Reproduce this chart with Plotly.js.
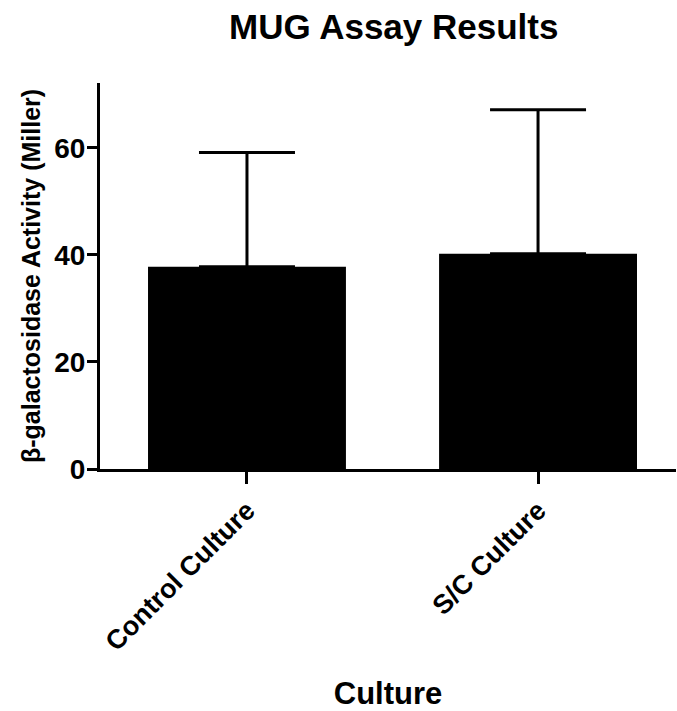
<!DOCTYPE html>
<html>
<head>
<meta charset="utf-8">
<script src="https://cdn.plot.ly/plotly-3.0.1.min.js"></script>
<style>html,body{margin:0;padding:0;background:#fff;}#chart{width:677px;height:711px;}</style>
</head>
<body>
<div id="chart"></div>
<script>
const categories = ["Control Culture", "S/C Culture"];
const meanActivity = [37.8, 40.2];
const errorUpper = [21.3, 26.9];
const errorLower = [0, 0];
const yTickValues = [0, 20, 40, 60];

const FONT = "Liberation Sans, Arial, Helvetica, sans-serif";

const trace = {
  type: "bar",
  x: categories,
  y: meanActivity,
  width: 0.68,
  marker: {color: "#000000", line: {width: 0}},
  error_y: {
    type: "data",
    symmetric: false,
    array: errorUpper,
    arrayminus: errorLower,
    color: "#000000",
    thickness: 3,
    width: 48
  },
  hoverinfo: "skip"
};

const layout = {
  width: 677,
  height: 711,
  paper_bgcolor: "#ffffff",
  plot_bgcolor: "#ffffff",
  showlegend: false,
  margin: {l: 100, r: 1, t: 83, b: 242},
  font: {family: FONT, color: "#000000"},
  title: {
    text: "<b>MUG Assay Results</b>",
    font: {family: FONT, size: 35, color: "#000000"},
    x: 0.51, xanchor: "center",
    y: 0.962, yanchor: "middle", xref: "paper", yref: "container"
  },
  xaxis: {
    type: "category",
    range: [-0.505, 1.474],
    showline: true, linecolor: "#000000", linewidth: 3,
    ticks: "outside", ticklen: 12, tickwidth: 3, tickcolor: "#000000",
    tickangle: -45,
    tickfont: {family: FONT, size: 27, color: "#000000", weight: "bold"},
    showgrid: false, zeroline: false,
    title: {text: "<b>Culture</b>", font: {family: FONT, size: 31, color: "#000000"}, standoff: 30}
  },
  yaxis: {
    range: [0, 72.1],
    tickvals: yTickValues,
    ticktext: yTickValues.map(String),
    showline: true, linecolor: "#000000", linewidth: 3,
    ticks: "outside", ticklen: 10, tickwidth: 3, tickcolor: "#000000",
    ticklabelstandoff: -4,
    tickfont: {family: FONT, size: 28, color: "#000000", weight: "bold"},
    showgrid: false, zeroline: false,
    title: {text: "<b>β-galactosidase Activity (Miller)</b>", font: {family: FONT, size: 25, color: "#000000"}, standoff: 7}
  }
};

Plotly.newPlot("chart", [trace], layout, {displayModeBar: false, staticPlot: true});
</script>
</body>
</html>
